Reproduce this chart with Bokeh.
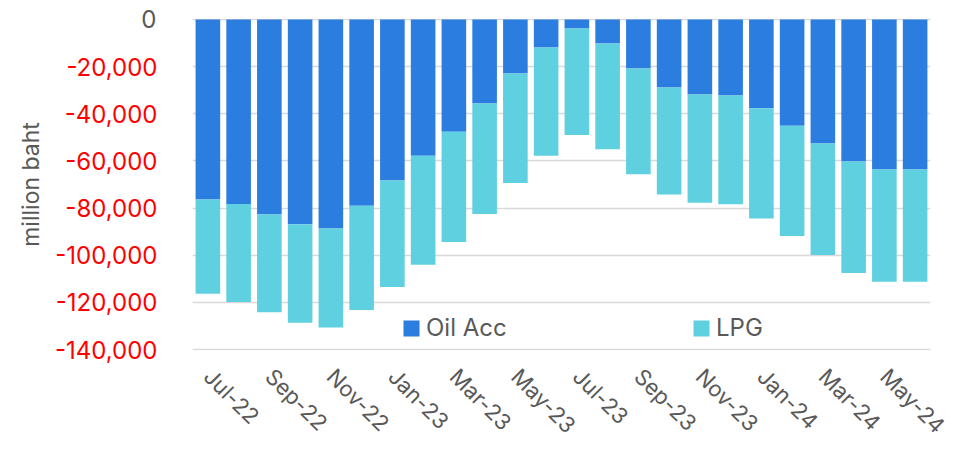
import math
from bokeh.plotting import figure
from bokeh.models import (Range1d, FixedTicker, Legend, LegendItem,
                          LinearAxis, ColumnDataSource, NumeralTickFormatter)
from bokeh.embed import file_html
from bokeh.resources import INLINE

months = ["Jul-22", "Aug-22", "Sep-22", "Oct-22", "Nov-22", "Dec-22",
          "Jan-23", "Feb-23", "Mar-23", "Apr-23", "May-23", "Jun-23",
          "Jul-23", "Aug-23", "Sep-23", "Oct-23", "Nov-23", "Dec-23",
          "Jan-24", "Feb-24", "Mar-24", "Apr-24", "May-24", "Jun-24"]
oil_acc = [-76400, -78300, -82700, -86900, -88700, -79000,
           -68300, -57800, -47600, -35600, -22900, -11900,
           -3800, -10200, -20800, -28800, -31800, -32200,
           -37700, -45100, -52600, -60200, -63600, -63600]
lpg = [-39900, -41500, -41500, -41800, -42000, -44200,
       -45200, -46200, -46800, -46900, -46500, -45900,
       -45200, -44800, -44800, -45400, -45900, -46200,
       -46700, -46800, -47300, -47300, -47700, -47700]
y_ticks = [0, -20000, -40000, -60000, -80000, -100000, -120000, -140000]

FONT = "Inter"
GRAY = "#595959"
OIL_C = "#2B7DE0"
LPG_C = "#5FD0DF"

xs = list(range(len(months)))
src = ColumnDataSource(dict(
    x=xs,
    oil_top=[0] * len(xs),
    oil_bot=oil_acc,
    lpg_top=oil_acc,
    lpg_bot=[a + b for a, b in zip(oil_acc, lpg)],
))

pad = 424  # small range padding so the 0 and -140,000 grid lines are drawn
p = figure(width=966, height=450, output_backend="svg", toolbar_location=None,
           x_range=Range1d(-0.5, len(months) - 0.5),
           y_range=Range1d(y_ticks[-1] - pad, y_ticks[0] + pad),
           min_border_left=192, min_border_right=36,
           min_border_top=18, min_border_bottom=100)
p.outline_line_color = None
p.background_fill_color = "white"

r_oil = p.vbar(x="x", top="oil_top", bottom="oil_bot", width=0.8, source=src,
               fill_color=OIL_C, line_color=None)
r_lpg = p.vbar(x="x", top="lpg_top", bottom="lpg_bot", width=0.8, source=src,
               fill_color=LPG_C, line_color=None)

# grid
p.xgrid.visible = False
p.ygrid.ticker = FixedTicker(ticks=y_ticks)
p.ygrid.grid_line_color = "#D9D9D9"
p.ygrid.grid_line_width = 1.5
p.ygrid.level = "underlay"

# y axis (red negative labels)
ya = p.yaxis[0]
ya.ticker = FixedTicker(ticks=y_ticks[1:])
ya.formatter = NumeralTickFormatter(format="0,0")
ya.axis_line_color = None
ya.major_tick_line_color = None
ya.minor_tick_line_color = None
ya.major_tick_out = 0
ya.major_label_standoff = 35
ya.major_label_text_color = "#FF0000"
ya.major_label_text_font = FONT
ya.major_label_text_font_size = "24px"
ya.axis_label = "million baht"
ya.axis_label_text_font = FONT
ya.axis_label_text_font_size = "23px"
ya.axis_label_text_font_style = "normal"
ya.axis_label_text_color = GRAY
ya.axis_label_standoff = 7

# second axis carrying only the grey "0" label
ya0 = LinearAxis(ticker=FixedTicker(ticks=[0]),
                 formatter=NumeralTickFormatter(format="0,0"))
ya0.axis_line_color = None
ya0.major_tick_line_color = None
ya0.minor_tick_line_color = None
ya0.major_tick_out = 0
ya0.major_label_standoff = -143
ya0.major_label_text_color = GRAY
ya0.major_label_text_font = FONT
ya0.major_label_text_font_size = "24px"
p.add_layout(ya0, "left")

# x axis: every other month, rotated labels
xa = p.xaxis[0]
xa.ticker = FixedTicker(ticks=xs[::2])
xa.major_label_overrides = {i: months[i] for i in xs}
xa.axis_line_color = None
xa.major_tick_line_color = None
xa.minor_tick_line_color = None
xa.major_tick_out = 0
xa.major_label_standoff = 22
xa.major_label_orientation = -math.pi / 4
xa.major_label_text_color = GRAY
xa.major_label_text_font = FONT
xa.major_label_text_font_size = "22px"

def make_legend(label, rend, loc):
    lg = Legend(items=[LegendItem(label=label, renderers=[rend])],
                location=loc, orientation="horizontal",
                padding=0, margin=0, border_line_color=None,
                background_fill_alpha=0, glyph_width=20, glyph_height=20,
                label_standoff=5, label_text_font=FONT,
                label_text_font_size="24px", label_text_color=GRAY)
    p.add_layout(lg, "center")

make_legend("Oil Acc", r_oil, (209, 8))
make_legend("LPG", r_lpg, (499, 8))

open("out.html", "w").write(file_html(p, INLINE))
